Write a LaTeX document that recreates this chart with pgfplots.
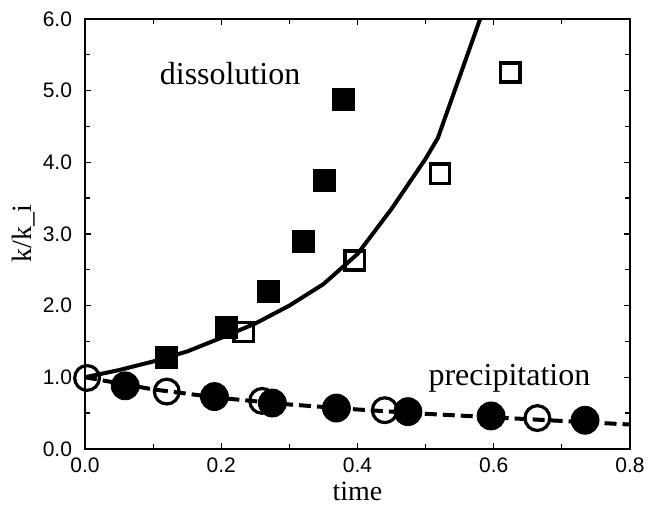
\documentclass[border=0pt]{standalone}
\usepackage{fontspec}
\setmainfont{Liberation Serif}
\setsansfont{Liberation Sans}
\usepackage{pgfplots}
\pgfplotsset{compat=1.18}

\begin{document}
\begin{tikzpicture}
\begin{axis}[
  scale only axis,width=272.5pt,height=215pt,
  xmin=0,xmax=0.8,ymin=0,ymax=6,
  xtick={0,0.2,0.4,0.6,0.8},minor xtick={0.1,0.3,0.5,0.7},
  ytick={0,1,...,6},minor ytick={0.5,1.5,...,5.5},
  tick align=inside,major tick length=3pt,minor tick length=2.5pt,
  axis line style={line width=0.8pt},
  every tick/.style={black,line width=0.6pt},
  /pgf/number format/fixed,
  /pgf/number format/fixed zerofill,
  /pgf/number format/precision=1,
  /pgf/number format/assume math mode=true,
  tick label style={font=\sffamily\fontsize{10.5}{12}\selectfont},
  xticklabel style={yshift=-1pt},
  yticklabel style={xshift=-3pt},
  label style={font=\fontsize{14}{16}\selectfont},
  xlabel={time},ylabel={k/k\_i},
  xlabel style={yshift=2.5pt},
  ylabel style={yshift=-3pt},
  clip=false,
]
% dissolution model curve
\addplot[black,line width=2pt] coordinates {
  (0,1.0) (0.05,1.1) (0.1,1.22) (0.15,1.36) (0.2,1.55) (0.25,1.75)
  (0.3,2.0) (0.35,2.3) (0.4,2.72) (0.45,3.35) (0.5,4.05) (0.518,4.34)
  (0.58,6.0)};
% precipitation model curve
\addplot[black,line width=2pt,dash pattern=on 6pt off 3pt] coordinates {
  (0,1.0) (0.1,0.83) (0.2,0.71) (0.3,0.62) (0.4,0.55) (0.5,0.49)
  (0.6,0.44) (0.7,0.39) (0.8,0.34)};
% dissolution, filled squares
\addplot[only marks,mark=square*,mark size=5.5pt,black] coordinates {
  (0.12,1.28) (0.207,1.69) (0.269,2.20) (0.320,2.90) (0.352,3.75) (0.379,4.87)};
% dissolution, open squares
\addplot[only marks,mark=square,mark size=4.8pt,black,line width=1.8pt,mark options={fill=white}] coordinates {
  (0.233,1.63) (0.396,2.63) (0.521,3.84) (0.624,5.25)};
% precipitation, filled circles
\addplot[only marks,mark=*,mark size=7pt,black] coordinates {
  (0.059,0.88) (0.19,0.73) (0.275,0.64) (0.369,0.57) (0.474,0.52)
  (0.596,0.46) (0.734,0.40)};
% precipitation, open circles
\addplot[only marks,mark=o,mark size=6.2pt,black,line width=1.6pt,mark options={fill=white}] coordinates {
  (0.003,0.99) (0.12,0.80) (0.26,0.67) (0.44,0.54) (0.664,0.43)};
\node[anchor=base,font=\fontsize{16}{18}\selectfont] at (axis cs:0.213,5.08) {dissolution};
\node[anchor=base,font=\fontsize{16}{18}\selectfont] at (axis cs:0.623,0.89) {precipitation};
\coordinate (bl) at (rel axis cs:-0.156,-0.130);
\coordinate (tr) at (rel axis cs:1.033,1.044);
\end{axis}
\pgfresetboundingbox
\path[use as bounding box] (bl) rectangle (tr);
\end{tikzpicture}
\end{document}
